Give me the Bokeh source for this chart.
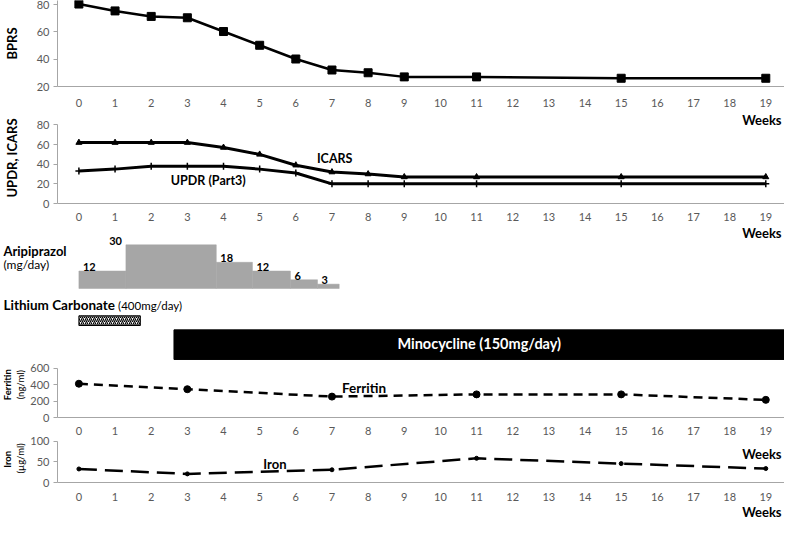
import math
from bokeh.plotting import figure
from bokeh.models import Range1d, FixedTicker, Label, ColumnDataSource, LinearAxis
from bokeh.layouts import column
from bokeh.embed import file_html
from bokeh.resources import INLINE
from bokeh.core.properties import value

# ---------------- data ----------------
week_ticks = list(range(20))
bprs_weeks = [0, 1, 2, 3, 4, 5, 6, 7, 8, 9, 11, 15, 19]
bprs = [80, 75, 71, 70, 60, 50, 40, 32, 30, 27, 27, 26, 26]
scale_weeks = [0, 1, 2, 3, 4, 5, 6, 7, 8, 9, 11, 15, 19]
icars = [62, 62, 62, 62, 57, 50, 39, 32, 30, 27, 27, 27, 27]
updr = [33, 35, 38, 38, 38, 35, 31, 20, 20, 20, 20, 20, 20]
ari_start = [0, 1.3, 3.8, 4.8, 5.85, 6.6]
ari_end = [1.3, 3.8, 4.8, 5.85, 6.6, 7.2]
ari_dose = [12, 30, 18, 12, 6, 3]
lithium_period = [0.0, 1.7]
minocycline_start = 2.63
lab_weeks = [0, 3, 7, 11, 15, 19]
ferritin = [412, 345, 255, 282, 282, 215]
iron = [33, 21, 31, 59, 46, 34]

bprs_ticks = [20, 40, 60, 80]
scale_ticks = [0, 20, 40, 60, 80]
ferritin_ticks = [0, 200, 400, 600]
iron_ticks = [0, 50, 100]

# ---------------- layout helpers ----------------
W, H = 784, 520
SX, SY = W / 800, H / 536
X0_REF, WEEK_PX = 80.0, 36.89
FONT = "Lato"
GRAY = "#a6a6a6"
TICK_COL = "#595959"


def wk(xr):
    return (xr - X0_REF) / WEEK_PX


BANDS = [0, 115, 233, 372, 536]
BOUT = [round(b * SY) for b in BANDS]
FL = round(58 * SX)
XS = wk(FL / SX)
XE = wk(800)


def mapping(va, ya, vb, yb, ft_abs, fb_abs):
    """value range for a frame spanning output rows ft_abs..fb_abs,
    given value va at reference row ya and vb at reference row yb"""
    s = (va - vb) / ((yb - ya) * SY)
    yb_out = round(yb * SY)

    def v_out(yo):
        return vb + (yb_out - yo) * s
    return Range1d(v_out(fb_abs), v_out(ft_abs)), (lambda yr: v_out(yr * SY))


def make_fig(i, ftop, fbot, yrange, left=FL, xs=XS, axes=True):
    top, bot = BOUT[i], BOUT[i + 1]
    kw = {}
    if not axes:
        kw = dict(x_axis_type=None, y_axis_type=None)
    p = figure(width=W, height=bot - top, x_range=Range1d(xs, XE), y_range=yrange,
               min_border_left=left, min_border_right=0,
               min_border_top=round(ftop * SY) - top,
               min_border_bottom=bot - round(fbot * SY),
               toolbar_location=None, output_backend="svg", title=None, **kw)
    try:
        p.frame_align = False
    except Exception:
        pass
    p.outline_line_color = None
    p.background_fill_color = "white"
    p.border_fill_color = "white"
    p.grid.visible = False
    return p


def style_x(xa, stand):
    xa.ticker = FixedTicker(ticks=week_ticks)
    xa.major_tick_out = 0
    xa.major_tick_in = 0
    xa.minor_tick_out = 0
    xa.minor_tick_in = 0
    xa.axis_line_color = GRAY
    xa.major_label_text_font = FONT
    xa.major_label_text_font_size = "11px"
    xa.major_label_text_color = TICK_COL
    xa.major_label_standoff = stand


def style_y(ya, ticks, label=""):
    ya.ticker = FixedTicker(ticks=ticks)
    ya.major_tick_out = 4
    ya.major_tick_in = 0
    ya.minor_tick_out = 0
    ya.minor_tick_in = 0
    ya.axis_line_color = GRAY
    ya.major_tick_line_color = GRAY
    ya.major_label_text_font = FONT
    ya.major_label_text_font_size = "11px"
    ya.major_label_text_color = TICK_COL
    ya.major_label_standoff = 4
    if label:
        ya.axis_label = label
        ya.axis_label_text_font = FONT
        ya.axis_label_text_font_size = "13px"
        ya.axis_label_text_font_style = "bold"
        ya.axis_label_text_color = "black"
        ya.axis_label_standoff = 14


def lab(p, x, y, text, size="12.5px", bold=True, align="left", baseline="middle",
        color="black", yr="default", angle=0.0):
    p.add_layout(Label(x=x, y=y, text=text, text_font=FONT, text_font_size=size,
                       text_font_style="bold" if bold else "normal",
                       text_align=align, text_baseline=baseline, angle=angle,
                       text_color=color, y_range_name=yr))


# ---------------- panel 1: BPRS ----------------
r1, yv1 = mapping(80, 4, 20, 89, round(0 * SY), round(89 * SY))
r1.start = 20
p1 = make_fig(0, 0, 89, r1)
style_x(p1.xaxis[0], 12)
style_y(p1.yaxis[0], bprs_ticks, "BPRS")
p1.line(bprs_weeks, bprs, line_color="black", line_width=2.5)
p1.scatter(bprs_weeks, bprs, marker="square", size=8, color="black")

# ---------------- panel 2: UPDR / ICARS ----------------
r2, yv2 = mapping(80, 128, 0, 209, round(115 * SY), round(209 * SY))
r2.start = 0
p2 = make_fig(1, 115, 209, r2)
style_x(p2.xaxis[0], 9)
style_y(p2.yaxis[0], scale_ticks, "UPDR, ICARS")
p2.yaxis[0].bounds = (0, 80)
p2.line(scale_weeks, icars, line_color="black", line_width=3)
p2.scatter(scale_weeks, icars, marker="triangle", size=6, color="black")
p2.line(scale_weeks, updr, line_color="black", line_width=3)
p2.scatter(scale_weeks, updr, marker="cross", size=7, line_width=1.5, color="black")
lab(p2, wk(341), yv2(162.7), "ICARS", align="center")
lab(p2, wk(212), yv2(185.7), "UPDR (Part3)", align="center")
lab(p2, wk(797), yv2(123), "Weeks", size="13px", align="right")   # weeks of panel 1

# ---------------- panel 3: medication ----------------
r3, yv3 = mapping(30, 252, 0, 297, BOUT[2], BOUT[3])
p3 = make_fig(2, 233, 372, r3, left=0, xs=wk(0), axes=False)
p3.extra_y_ranges = {"lane": Range1d(BOUT[3] / SY, BOUT[2] / SY)}
lab(p3, wk(797), 240, "Weeks", size="13px", align="right", yr="lane")  # weeks of panel 2
p3.quad(left=ari_start, right=ari_end, bottom=0, top=ari_dose,
        fill_color=GRAY, line_color=GRAY, line_width=0.5)
peak = max(ari_dose)
dose_src = ColumnDataSource(dict(
    x=ari_start, y=ari_dose, t=[str(d) for d in ari_dose],
    xo=[-4 if d == peak else 4 for d in ari_dose],
    al=["right" if d == peak else "left" for d in ari_dose]))
p3.text(x="x", y="y", text="t", x_offset="xo", text_align="al", y_offset=0,
        text_baseline="bottom", text_font=value(FONT), text_font_size="11px",
        text_font_style="bold", text_color="black", source=dose_src)
lab(p3, wk(3), 258, "Aripiprazol", size="13px", yr="lane")
lab(p3, wk(3), 272, "(mg/day)", size="12px", bold=False, yr="lane")
lab(p3, wk(3), 314, "Lithium Carbonate", size="13.5px", yr="lane")
lab(p3, wk(120), 314, "(400mg/day)", size="11.5px", bold=False, yr="lane")
p3.quad(left=[lithium_period[0]], right=[lithium_period[1]], top=325, bottom=335,
        y_range_name="lane", fill_color="white", line_color="black", line_width=1,
        hatch_pattern="/", hatch_color="black", hatch_scale=4, hatch_weight=1.2)
p3.quad(left=[minocycline_start], right=[XE + 1], top=339.5, bottom=370,
        y_range_name="lane", fill_color="black", line_color="black")
lab(p3, (minocycline_start + XE) / 2, 354, "Minocycline (150mg/day)", size="14.5px",
    align="center", color="white", yr="lane")

# ---------------- panels 4+5: ferritin and iron (one full frame, pinned axes) ----------------
r4, yv4 = mapping(600, 379.3, 0, 430, BOUT[3], BOUT[4])
r5, yv5 = mapping(100, 455, 0, 497.3, BOUT[3], BOUT[4])
p4 = make_fig(3, 372, 536, r4, left=0, xs=wk(0))
p4.extra_y_ranges = {"iron": r5}
xa4, ya4 = p4.xaxis[0], p4.yaxis[0]
style_x(xa4, 9)
style_y(ya4, ferritin_ticks)
ya4.fixed_location = XS
ya4.bounds = (0, 600)
xa4.fixed_location = 0
xa4.bounds = (XS, XE)
ya5 = LinearAxis(y_range_name="iron")
style_y(ya5, iron_ticks)
ya5.fixed_location = XS
ya5.bounds = (0, 100)
p4.add_layout(ya5, "left")
xa5 = LinearAxis(y_range_name="iron")
style_x(xa5, 10)
xa5.fixed_location = 0
xa5.bounds = (XS, XE)
p4.add_layout(xa5, "below")

p4.line(lab_weeks, ferritin, line_color="black", line_width=2.5, line_dash="9 6")
p4.scatter(lab_weeks, ferritin, marker="circle", size=7, color="black")
lab(p4, wk(371), yv4(399), "Ferritin", size="13.5px", align="center")
lab(p4, wk(7), yv4(396), "Ferritin", size="9.5px", align="center", angle=math.pi / 2)
lab(p4, wk(20), yv4(396), "(ng/ml)", size="9.5px", bold=False, align="center",
    angle=math.pi / 2)

p4.line(lab_weeks, iron, line_color="black", line_width=2.5, line_dash="18 8",
        y_range_name="iron")
p4.scatter(lab_weeks, iron, marker="circle", size=4, color="black", y_range_name="iron")
lab(p4, wk(280), yv5(477.7), "Iron", size="13px", align="center", yr="iron")
lab(p4, wk(797), yv5(467), "Weeks", size="13px", align="right", yr="iron")
lab(p4, wk(797), yv5(527), "Weeks", size="13px", align="right", yr="iron")
lab(p4, wk(7), yv5(473), "Iron", size="9.5px", align="center", angle=math.pi / 2,
    yr="iron")
lab(p4, wk(20), yv5(472), "(µg/ml)", size="9.5px", bold=False, align="center",
    angle=math.pi / 2, yr="iron")

layout = column(p1, p2, p3, p4, spacing=0)
open("out.html", "w").write(file_html(layout, INLINE))
